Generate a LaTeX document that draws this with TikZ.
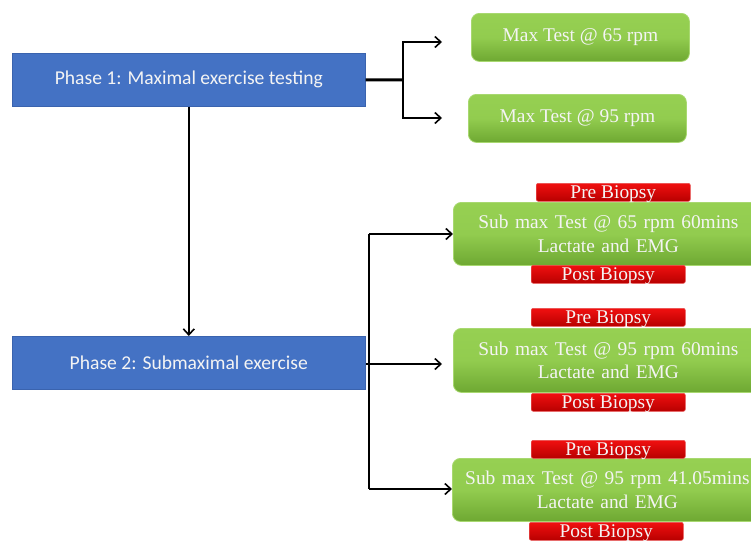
\documentclass[tikz,border=0pt]{standalone}
\usepackage{fontspec}
\setmainfont{Liberation Serif}
\newfontfamily\calib{Carlito}
\usetikzlibrary{arrows.meta}
\definecolor{phaseblue}{HTML}{4472C4}
\definecolor{phaseedge}{HTML}{3A63AE}
\definecolor{gtop}{HTML}{96D052}
\definecolor{gbot}{HTML}{6EA832}
\definecolor{gedge}{HTML}{A8D870}
\definecolor{rtop}{HTML}{F01010}
\definecolor{rbot}{HTML}{B80000}
\definecolor{redge}{HTML}{E85050}
\definecolor{txt}{HTML}{F4F4F4}
\tikzset{
  phase/.style={draw=phaseedge, fill=phaseblue, line width=0.6pt, anchor=north west,
    inner sep=0pt, minimum width=353pt, minimum height=53pt, text=txt,
    font=\calib\fontsize{19.6}{22}\selectfont},
  gbox/.style={draw=gedge, line width=0.8pt, top color=gtop, bottom color=gbot,
    middle color=gtop!90!gbot, rounded corners=8pt, anchor=north west, inner sep=0pt,
    text=txt, align=center, font=\fontsize{19.4}{23.5}\selectfont},
  rbox/.style={draw=redge, line width=0.6pt, top color=rtop, bottom color=rbot,
    rounded corners=2pt, anchor=north west, inner sep=0pt, minimum width=154pt,
    minimum height=18pt, text height=15.5pt, text depth=2.5pt, text=txt,
    font=\fontsize{19.4}{20}\selectfont},
  conn/.style={line width=1.6pt, black},
  arr/.style={conn, -{Straight Barb[length=6pt,width=11pt,line width=1.6pt]}},
}
\begin{document}
\begin{tikzpicture}[x=1pt,y=-1pt]
\clip (0,0) rectangle (751,544);
\fill[white] (0,0) rectangle (751,544);

\node[phase] (p1) at (12,53) {Phase 1: Maximal exercise testing};
\node[phase] (p2) at (12,336) {Phase 2: Submaximal exercise};

\node[gbox, minimum width=218pt, minimum height=48pt] (m1) at (471,13) {Max Test @ 65 rpm};
\node[gbox, minimum width=218pt, minimum height=48pt] (m2) at (468,94) {Max Test @ 95 rpm};

\node[gbox, minimum width=310pt, minimum height=63pt, text width=300pt] (s1) at (453,202) {Sub max Test @ 65 rpm 60mins\\Lactate and EMG};
\node[gbox, minimum width=310pt, minimum height=64pt, text width=300pt] (s2) at (453,328) {Sub max Test @ 95 rpm 60mins\\Lactate and EMG};
\node[gbox, minimum width=310pt, minimum height=63pt, text width=300pt] (s3) at (452,458) {Sub max Test @ 95 rpm 41.05mins\\Lactate and EMG};

\node[rbox] (pre1) at (536,183) {Pre Biopsy};
\node[rbox] (post1) at (531,265) {Post Biopsy};
\node[rbox] (pre2) at (531,308) {Pre Biopsy};
\node[rbox] (post2) at (531,393) {Post Biopsy};
\node[rbox] (pre3) at (531,440) {Pre Biopsy};
\node[rbox] (post3) at (529,522) {Post Biopsy};

% Phase 1 connectors
\coordinate (j1) at (403,80);
\coordinate (a1) at (442,42);
\coordinate (a2) at (442,118);
\draw[line width=3pt] (p1.east) -- (j1);
\draw[arr] (j1) |- (a1);
\draw[arr] (j1) |- (a2);
\draw[arr] (p1.south) -- (p2.north);

% Phase 2 connectors
\coordinate (v1) at (369,234);
\coordinate (v3) at (369,489);
\coordinate (vm) at (366,364);
\coordinate (b1) at (453,234);
\coordinate (b2) at (442,364);
\coordinate (b3) at (452,489);
\draw[conn] (v1) -- (v3);
\draw[arr] (v1) -- (b1);
\draw[arr] (vm) -- (b2);
\draw[arr] (v3) -- (b3);
\end{tikzpicture}
\end{document}
